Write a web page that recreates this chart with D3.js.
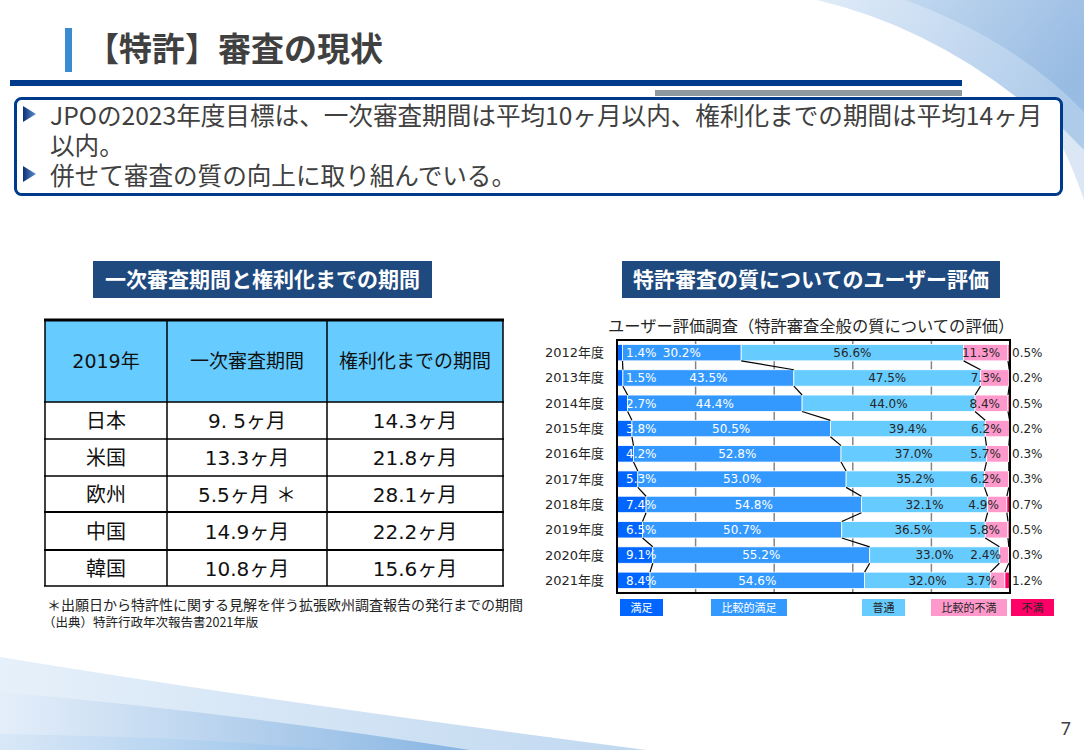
<!DOCTYPE html>
<html>
<head>
<meta charset="utf-8">
<script src="https://cdn.jsdelivr.net/npm/d3@7"></script>
<style>
body{margin:0;background:#fff;}
svg{display:block;}
</style>
</head>
<body>
<div id="slide"></div>
<script>
// ---- chart data (ユーザー評価調査) ----
var years = ['2012年度','2013年度','2014年度','2015年度','2016年度','2017年度','2018年度','2019年度','2020年度','2021年度'];
var satisfied = [1.4,1.5,2.7,3.8,4.2,5.3,7.4,6.5,9.1,8.4];
var ratherSatisfied = [30.2,43.5,44.4,50.5,52.8,53.0,54.8,50.7,55.2,54.6];
var neutral = [56.6,47.5,44.0,39.4,37.0,35.2,32.1,36.5,33.0,32.0];
var ratherDissatisfied = [11.3,7.3,8.4,6.2,5.7,6.2,4.9,5.8,2.4,3.7];
var dissatisfied = [0.5,0.2,0.5,0.2,0.3,0.3,0.7,0.5,0.3,1.2];
var seriesNames = ['満足','比較的満足','普通','比較的不満','不満'];
var gridTicks = [20,40,60,80];

// ---- table data ----
var tableHead = ['2019年','一次審査期間','権利化までの期間'];
var countries = ['日本','米国','欧州','中国','韓国'];
var firstAction = ['9. 5ヶ月','13.3ヶ月','5.5ヶ月 ＊','14.9ヶ月','10.8ヶ月'];
var toGrant = ['14.3ヶ月','21.8ヶ月','28.1ヶ月','22.2ヶ月','15.6ヶ月'];

var colors = ['#0066FF','#3399FF','#66CCFF','#FF99CC','#FF0066'];
var cjk = '"Noto Sans CJK JP", sans-serif';
var mixed = '"DejaVu Sans", "Noto Sans CJK JP", sans-serif';
var W = 1084, H = 750;

var svg = d3.select('#slide').append('svg')
    .attr('width', W)
    .attr('height', H);

var defs = svg.append('defs');
function grad(id, stops, x2, y2) {
    var g = defs.append('linearGradient').attr('id', id)
        .attr('x1', 0).attr('y1', 0).attr('x2', x2).attr('y2', y2);
    stops.forEach(function(s) {
        g.append('stop').attr('offset', s[0]).attr('stop-color', s[1]);
    });
}
grad('gTop1', [[0,'#dfebf8'],[1,'#afcbea']], 1, 0.4);
grad('gTop2', [[0,'#bdd5ee'],[1,'#93b8e1']], 1, 0.5);
grad('gBot1', [[0,'#e6f0fa'],[1,'#c0d8f0']], 1, 0);
grad('gBot2', [[0,'#e4eefa'],[0.6,'#a9c9ea'],[1,'#7fb0e0']], 1, 0);
grad('gBot3', [[0,'#d7e7f7'],[1,'#98c2ea']], 1, 0);
grad('gTri', [[0,'#0e2f70'],[1,'#5d93d8']], 1, 0);

// ---- background swooshes ----
var bg = svg.append('g');
bg.append('path').attr('d', 'M817,0 Q965,35 1084,158 L1084,0 Z').attr('fill', 'url(#gTop1)');
bg.append('path').attr('d', 'M905,0 Q1015,40 1084,112 L1084,0 Z').attr('fill', 'url(#gTop2)').attr('opacity', 0.8);
bg.append('path').attr('d', 'M1030,95 Q1060,130 1084,200 L1084,150 Z').attr('fill', '#dbe7f4');
bg.append('path').attr('d', 'M0,657 Q260,700 646,750 L0,750 Z').attr('fill', 'url(#gBot1)');
bg.append('path').attr('d', 'M0,692 Q230,712 470,750 L0,750 Z').attr('fill', 'url(#gBot2)').attr('opacity', 0.9);
bg.append('path').attr('d', 'M0,734 Q200,737 330,750 L0,750 Z').attr('fill', 'url(#gBot3)').attr('opacity', 0.9);

// ---- slide title ----
svg.append('rect').attr('x', 65).attr('y', 28).attr('width', 7).attr('height', 44).attr('fill', '#3B8BD0');
svg.append('text').attr('x', 86).attr('y', 61)
    .style('font-family', cjk).style('font-weight', 'bold').style('font-size', '33px')
    .attr('fill', '#404040').text('【特許】審査の現状');
svg.append('rect').attr('x', 10).attr('y', 80).attr('width', 952).attr('height', 6).attr('fill', '#003A8C');
svg.append('rect').attr('x', 655).attr('y', 90).attr('width', 307).attr('height', 6).attr('fill', '#8D999E');

// ---- bullet box ----
svg.append('rect').attr('x', 15.5).attr('y', 98.5).attr('width', 1046).attr('height', 96)
    .attr('rx', 6).attr('fill', '#fff').attr('stroke', '#003A8C').attr('stroke-width', 3);
var bullets = [
    {tri: true, y: 125, t: 'JPOの2023年度目標は、一次審査期間は平均10ヶ月以内、権利化までの期間は平均14ヶ月'},
    {tri: false, y: 155, t: '以内。'},
    {tri: true, y: 185, t: '併せて審査の質の向上に取り組んでいる。'}
];
bullets.forEach(function(b) {
    if (b.tri) {
        svg.append('path')
            .attr('d', 'M23,' + (b.y - 19) + 'L36,' + (b.y - 11) + 'L23,' + (b.y - 3) + 'Z')
            .attr('fill', 'url(#gTri)');
    }
    svg.append('text').attr('x', 50).attr('y', b.y)
        .style('font-family', cjk).style('font-size', '24.6px')
        .attr('fill', '#404040').text(b.t);
});

// ---- section headers ----
function sectionHeader(x, w, label) {
    svg.append('rect').attr('x', x).attr('y', 261).attr('width', w).attr('height', 37).attr('fill', '#1F4A7F');
    svg.append('text').attr('x', x + w / 2).attr('y', 287)
        .attr('text-anchor', 'middle')
        .style('font-family', cjk).style('font-weight', 'bold').style('font-size', '21px')
        .attr('fill', '#fff').text(label);
}
sectionHeader(93, 339, '一次審査期間と権利化までの期間');
sectionHeader(622, 378, '特許審査の質についてのユーザー評価');

// ---- table ----
var colX = [45, 167, 327, 503];
var rowY = [320, 402, 439, 476, 512, 550, 586];
var tg = svg.append('g');
tg.append('rect').attr('x', colX[0]).attr('y', rowY[0])
    .attr('width', colX[3] - colX[0]).attr('height', rowY[1] - rowY[0]).attr('fill', '#66CCFF');
tableHead.forEach(function(h, i) {
    tg.append('text')
        .attr('x', (colX[i] + colX[i + 1]) / 2).attr('y', (rowY[0] + rowY[1]) / 2 + 7)
        .attr('text-anchor', 'middle')
        .style('font-family', mixed).style('font-size', '19px')
        .attr('fill', '#111').text(h);
});
countries.forEach(function(c, r) {
    var cells = [c, firstAction[r], toGrant[r]];
    cells.forEach(function(v, i) {
        tg.append('text')
            .attr('x', (colX[i] + colX[i + 1]) / 2).attr('y', (rowY[r + 1] + rowY[r + 2]) / 2 + 7.5)
            .attr('text-anchor', 'middle')
            .style('font-family', mixed).style('font-size', '20px')
            .attr('fill', '#111').text(v);
    });
});
rowY.forEach(function(y, i) {
    tg.append('line').attr('x1', colX[0] - 1).attr('x2', colX[3] + 1).attr('y1', y).attr('y2', y)
        .attr('stroke', '#000').attr('stroke-width', i === 0 ? 3 : (i === 4 || i === 5 ? 2 : 1.5));
});
colX.forEach(function(x) {
    tg.append('line').attr('x1', x).attr('x2', x).attr('y1', rowY[0]).attr('y2', rowY[6])
        .attr('stroke', '#000').attr('stroke-width', 1.5);
});
svg.append('text').attr('x', 47).attr('y', 610)
    .style('font-family', cjk).style('font-size', '14px').attr('fill', '#222')
    .text('＊出願日から特許性に関する見解を伴う拡張欧州調査報告の発行までの期間');
svg.append('text').attr('x', 43).attr('y', 627)
    .style('font-family', cjk).style('font-size', '12.5px').attr('fill', '#222')
    .text('（出典）特許行政年次報告書2021年版');

// ---- stacked bar chart ----
var rows = years.map(function(y, i) {
    return {year: y, '満足': satisfied[i], '比較的満足': ratherSatisfied[i], '普通': neutral[i],
        '比較的不満': ratherDissatisfied[i], '不満': dissatisfied[i]};
});
var layers = d3.stack().keys(seriesNames)(rows);

var plot = {left: 617, right: 1010, top: 340, bottom: 593};
var x = d3.scaleLinear().domain([0, 100]).range([plot.left, plot.right]);
var y = d3.scaleBand().domain(years).range([plot.top, plot.bottom])
    .paddingInner(0.35).paddingOuter(0.175);
var bw = y.bandwidth();

svg.append('text').attr('x', 608).attr('y', 332)
    .style('font-family', cjk).style('font-size', '16.3px').attr('fill', '#262626')
    .text('ユーザー評価調査（特許審査全般の質についての評価）');

var cg = svg.append('g');
cg.append('g').selectAll('line').data(gridTicks).enter().append('line')
    .attr('x1', function(d) { return x(d); }).attr('x2', function(d) { return x(d); })
    .attr('y1', plot.top).attr('y2', plot.bottom)
    .attr('stroke', '#858585').attr('stroke-width', 1.5);

cg.selectAll('g.layer').data(layers).enter().append('g')
    .attr('class', 'layer')
    .attr('fill', function(d, i) { return colors[i]; })
    .selectAll('rect').data(function(d) { return d; }).enter().append('rect')
    .attr('x', function(d) { return x(d[0]); })
    .attr('y', function(d) { return y(d.data.year); })
    .attr('width', function(d) { return x(d[1]) - x(d[0]); })
    .attr('height', bw)
    .attr('stroke', '#fff').attr('stroke-width', 0.8);

// series lines between bars
var sl = cg.append('g');
layers.slice(0, 4).forEach(function(layer) {
    for (var i = 0; i < layer.length - 1; i++) {
        sl.append('line')
            .attr('x1', x(layer[i][1])).attr('y1', y(years[i]) + bw)
            .attr('x2', x(layer[i + 1][1])).attr('y2', y(years[i + 1]))
            .attr('stroke', '#000').attr('stroke-width', 1.2);
    }
});

// plot frame
cg.append('rect').attr('x', plot.left).attr('y', plot.top)
    .attr('width', plot.right - plot.left).attr('height', plot.bottom - plot.top)
    .attr('fill', 'none').attr('stroke', '#000').attr('stroke-width', 2);

// year labels
cg.append('g').selectAll('text').data(years).enter().append('text')
    .attr('x', 604).attr('y', function(d) { return y(d) + bw / 2 + 4.5; })
    .attr('text-anchor', 'end')
    .style('font-family', mixed).style('font-size', '13px').attr('fill', '#262626')
    .text(function(d) { return d; });

// value labels
layers.forEach(function(layer, k) {
    cg.append('g').selectAll('text').data(layer).enter().append('text')
        .attr('x', function(d) {
            if (k === 0) return x(d[0]) + 9;
            if (k === 3) return x(d[1]) - 8;
            if (k === 4) return x(100) + 2;
            return (x(d[0]) + x(d[1])) / 2;
        })
        .attr('y', function(d) { return y(d.data.year) + bw / 2 + 4.3; })
        .attr('text-anchor', k === 0 || k === 4 ? 'start' : (k === 3 ? 'end' : 'middle'))
        .style('font-family', mixed).style('font-size', '12px')
        .attr('fill', k < 2 ? '#fff' : '#262626')
        .text(function(d) { return (d[1] - d[0]).toFixed(1) + '%'; });
});

// legend
var legendX = [620, 711, 862, 931, 1011];
var lg = svg.append('g');
seriesNames.forEach(function(name, i) {
    var w = name.length * 11 + 21;
    lg.append('rect').attr('x', legendX[i]).attr('y', 599).attr('width', w).attr('height', 17)
        .attr('fill', colors[i]);
    lg.append('text').attr('x', legendX[i] + w / 2).attr('y', 611.5)
        .attr('text-anchor', 'middle')
        .style('font-family', cjk).style('font-size', '11px')
        .attr('fill', i < 2 ? '#fff' : '#262626').text(name);
});

// page number
svg.append('text').attr('x', 1071).attr('y', 735).attr('text-anchor', 'end')
    .style('font-family', '"Noto Sans", sans-serif').style('font-size', '18px')
    .attr('fill', '#404040').text('7');
</script>
</body>
</html>
